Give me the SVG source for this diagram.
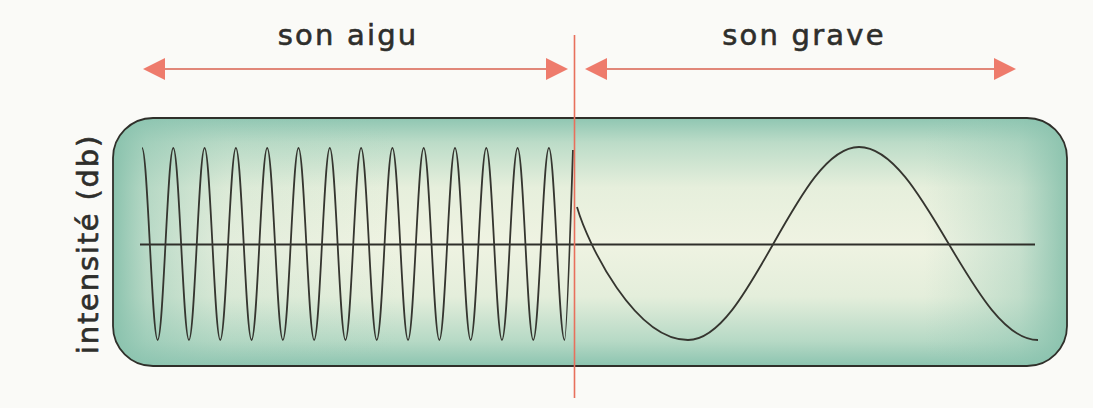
<svg xmlns="http://www.w3.org/2000/svg" width="1093" height="408" viewBox="0 0 1093 408">
<defs>
<linearGradient id="vGrad" x1="0" y1="0" x2="0" y2="1">
<stop offset="0" stop-color="#8fc6b2"/>
<stop offset="0.1" stop-color="#bcdcc8"/>
<stop offset="0.28" stop-color="#e6efdc"/>
<stop offset="0.5" stop-color="#eff3e2"/>
<stop offset="0.72" stop-color="#e4eedb"/>
<stop offset="0.9" stop-color="#b6d9c5"/>
<stop offset="1" stop-color="#8cc4b0"/>
</linearGradient>
<linearGradient id="hGrad" x1="0" y1="0" x2="1" y2="0">
<stop offset="0" stop-color="#86c0ab" stop-opacity="0.95"/>
<stop offset="0.035" stop-color="#8cc4b0" stop-opacity="0.55"/>
<stop offset="0.12" stop-color="#9ccbb8" stop-opacity="0.15"/>
<stop offset="0.3" stop-color="#9ccbb8" stop-opacity="0"/>
<stop offset="0.85" stop-color="#9ccbb8" stop-opacity="0"/>
<stop offset="0.95" stop-color="#8cc4b0" stop-opacity="0.4"/>
<stop offset="1" stop-color="#86c0ab" stop-opacity="0.9"/>
</linearGradient>
<marker id="ah" viewBox="0 0 22 22" refX="20" refY="11" markerWidth="22" markerHeight="22" markerUnits="userSpaceOnUse" orient="auto-start-reverse">
<path d="M0,0 L22,11 L0,22 Z" fill="#ee7b6c"/>
</marker>
<style>
.lbl{font-family:"DejaVu Sans",sans-serif;font-size:29px;fill:#2e2e2b;stroke:#2e2e2b;stroke-width:0.6px;letter-spacing:2.2px}
.wave{fill:none;stroke:#35352f;stroke-width:1.8;stroke-linejoin:round}
.arr{stroke:#d8614f;stroke-width:1.6;fill:none}
</style>
</defs>
<rect x="0" y="0" width="1093" height="408" fill="#fafaf7"/>
<g id="box">
<rect x="113" y="118" width="954" height="248" rx="40" ry="40" fill="url(#vGrad)"/>
<rect x="113" y="118" width="954" height="248" rx="40" ry="40" fill="url(#hGrad)" stroke="#2f2f2a" stroke-width="1.8"/>
</g>
<g id="axis">
<line x1="140" y1="244.5" x2="1035" y2="244.5" stroke="#2f2f2a" stroke-width="2"/>
</g>
<g id="wave-aigu">
<path class="wave" d="M142,148 c5.69,0 9.96,192 15.65,192 c5.69,0 9.96,-192 15.65,-192 c5.69,0 9.96,192 15.65,192 c5.69,0 9.96,-192 15.65,-192 c5.69,0 9.96,192 15.65,192 c5.69,0 9.96,-192 15.65,-192 c5.69,0 9.96,192 15.65,192 c5.69,0 9.96,-192 15.65,-192 c5.69,0 9.96,192 15.65,192 c5.69,0 9.96,-192 15.65,-192 c5.69,0 9.96,192 15.65,192 c5.69,0 9.96,-192 15.65,-192 c5.69,0 9.96,192 15.65,192 c5.69,0 9.96,-192 15.65,-192 c5.69,0 9.96,192 15.65,192 c5.69,0 9.96,-192 15.65,-192 c5.69,0 9.96,192 15.65,192 c5.69,0 9.96,-192 15.65,-192 c5.69,0 9.96,192 15.65,192 c5.69,0 9.96,-192 15.65,-192 c5.69,0 9.96,192 15.65,192 c5.69,0 9.96,-192 15.65,-192 c5.69,0 9.96,192 15.65,192 c5.69,0 9.96,-192 15.65,-192 c5.69,0 9.96,192 15.65,192 c5.69,0 9.96,-192 15.65,-192 c5.69,0 9.96,192 15.65,192 c2,0 5.5,-100 8.4,-190"/>
</g>
<g id="wave-grave">
<path class="wave" d="M577,207 C588,245 635,340 688,340 C750.1,340 796.9,147 859,147 C924,147 973,340 1038,340"/>
</g>
<g id="connectors">
<line class="arr" x1="145" y1="69" x2="566" y2="69" marker-start="url(#ah)" marker-end="url(#ah)"/>
<line class="arr" x1="587" y1="69" x2="1014" y2="69" marker-start="url(#ah)" marker-end="url(#ah)"/>
<line x1="574.5" y1="35" x2="574.5" y2="398" stroke="#e8705c" stroke-width="1.6"/>
</g>
<g id="label-aigu"><text class="lbl" x="348" y="45" text-anchor="middle">son aigu</text></g>
<g id="label-grave"><text class="lbl" x="804" y="45" text-anchor="middle">son grave</text></g>
<g id="label-intensite"><text class="lbl" transform="translate(98,244) rotate(-90)" text-anchor="middle" style="letter-spacing:1.8px">intensité (db)</text></g>
</svg>
